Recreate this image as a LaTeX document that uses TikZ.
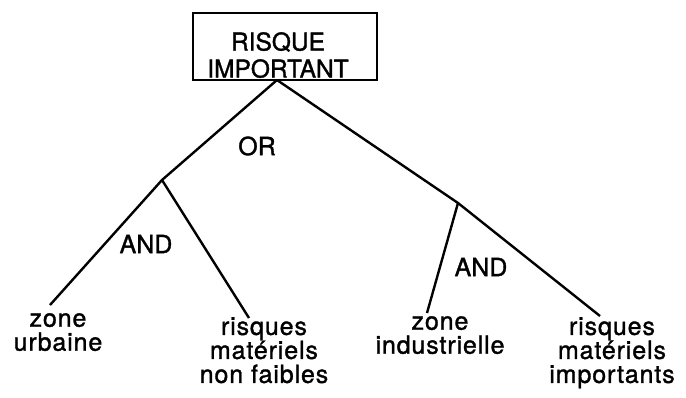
\documentclass[tikz,border=0pt]{standalone}
\usepackage{fontspec}
\setmainfont{TeX Gyre Heros}
\newfontfamily\lblfont[LetterSpace=3.5,FakeBold=1.3]{TeX Gyre Heros}
\newfontfamily\boxfont[FakeBold=1.3]{TeX Gyre Heros}
\begin{document}
\begin{tikzpicture}[x=1pt,y=-1pt,
  edge/.style={line width=2.4pt},
  lbl/.style={font=\lblfont\fontsize{25}{24}\selectfont, align=center, inner sep=0pt},
  gate/.style={font=\boxfont\fontsize{25}{25}\selectfont, inner sep=0pt}]
\useasboundingbox (0,0) rectangle (686,397);
\node[draw, line width=2pt, minimum width=184pt, minimum height=67pt, inner sep=0pt] (root) at (285,46.5) {};
\node[align=center, inner sep=0pt, font=\boxfont\fontsize{24.5}{27}\selectfont, anchor=north] (roottxt) at (278,32) {RISQUE\\IMPORTANT};
\coordinate (r) at (277,80);
\coordinate (j1) at (162,180);
\coordinate (j2) at (458,203);
\coordinate (e1) at (50,305);
\coordinate (e2) at (249,318);
\coordinate (e3) at (427,313);
\coordinate (e4) at (600,316);
\draw[edge] (r) -- (j1) -- (e1);
\draw[edge] (j1) -- (e2);
\draw[edge] (r) -- (j2) -- (e4);
\draw[edge] (j2) -- (e3);
\node[gate] (or) at (257,146) {OR};
\node[gate] (and1) at (146,244) {AND};
\node[gate] (and2) at (481,267) {AND};
\node[lbl, anchor=north] (zu) at (58,313) {zone\\urbaine};
\node[lbl, anchor=north] (rmnf) at (264,317) {risques\\matériels\\non faibles};
\node[lbl, anchor=north] (zi) at (440,316) {zone\\industrielle};
\node[lbl, anchor=north] (rmi) at (612,317) {risques\\matériels\\importants};
\end{tikzpicture}
\end{document}
